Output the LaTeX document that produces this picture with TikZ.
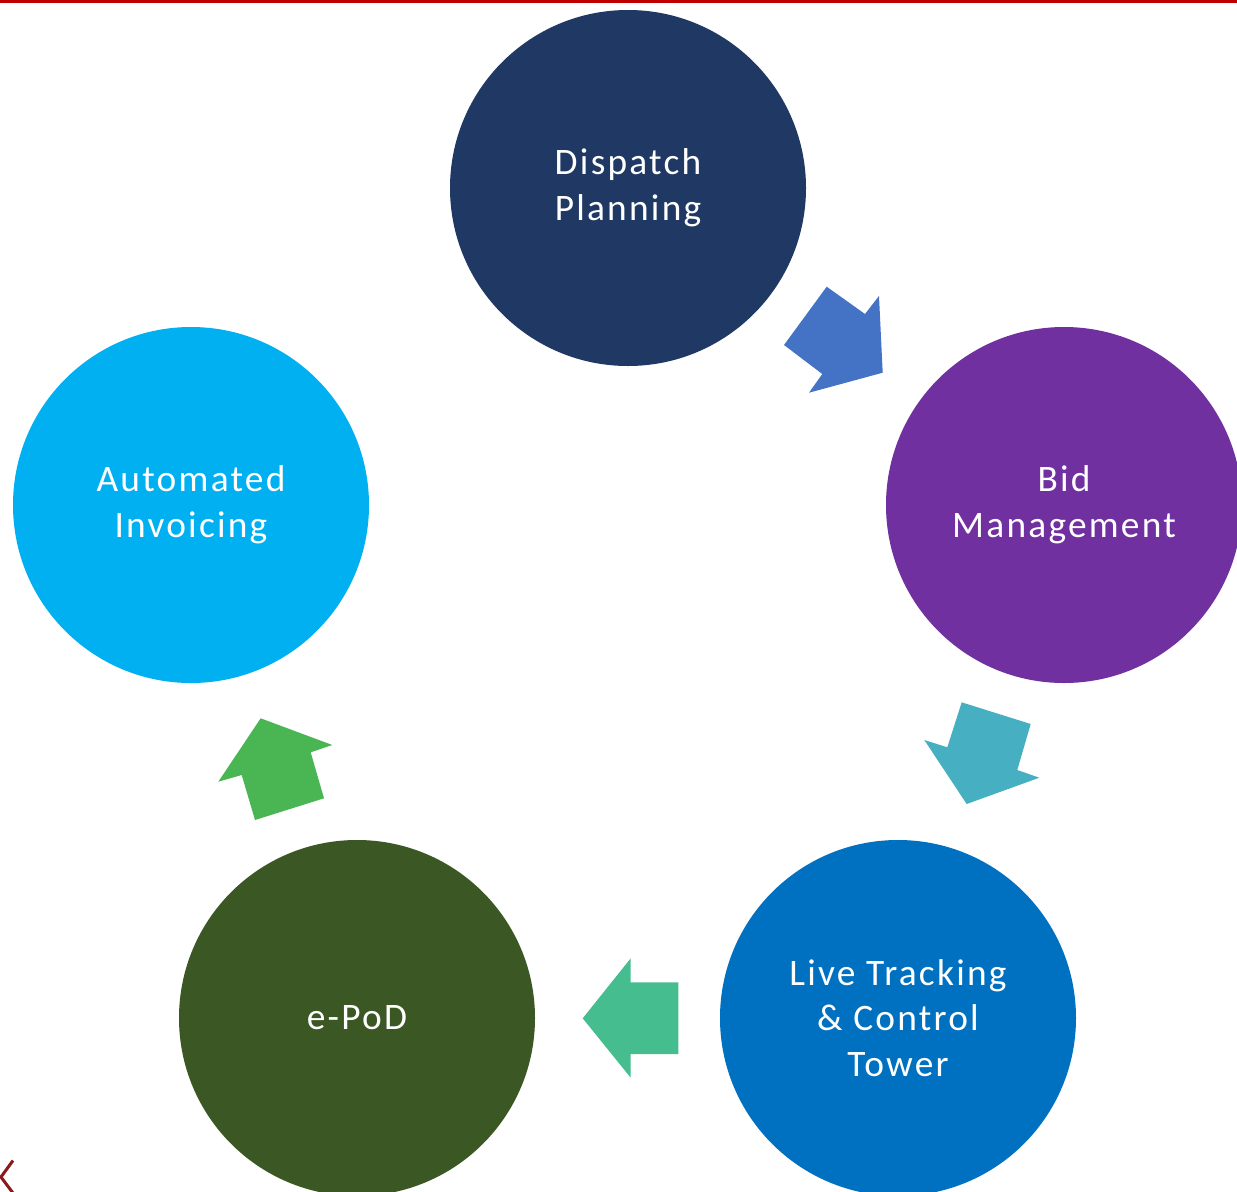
\documentclass[tikz,border=0pt]{standalone}
\usepackage{fontspec}
\setmainfont{Carlito}
\newfontfamily\stagefont[LetterSpace=6]{Carlito}
\definecolor{cDispatch}{HTML}{203864}
\definecolor{cBid}{HTML}{7030A0}
\definecolor{cLive}{HTML}{0070C0}
\definecolor{cPod}{HTML}{3B5724}
\definecolor{cInv}{HTML}{00B0F0}
\definecolor{aOne}{HTML}{4472C4}
\definecolor{aTwo}{HTML}{47AFC2}
\definecolor{aThree}{HTML}{46BD8E}
\definecolor{aFour}{HTML}{4AB553}
\definecolor{topred}{HTML}{C00000}
\definecolor{darkred}{HTML}{8B1A1A}
\begin{document}
\begin{tikzpicture}[x=1bp,y=-1bp,
  stage/.style={circle, minimum size=356bp, inner sep=0pt, text=white, align=center,
    font=\stagefont\fontsize{37.5}{46}\selectfont}]
\useasboundingbox (0,0) rectangle (1237,1192);
\clip (0,0) rectangle (1237,1192);
\fill[white] (0,0) rectangle (1237,1192);
\fill[topred] (0,0) rectangle (1237,2.5);
% stages
\node[stage, fill=cDispatch] (dp) at (628,188) {Dispatch\\Planning};
\node[stage, fill=cBid] (bm) at (1064,505) {Bid\\Management};
\node[stage, fill=cLive] (lt) at (898,1018) {Live Tracking\\\& Control\\Tower};
\node[stage, fill=cPod] (ep) at (357,1018) {e-PoD};
\node[stage, fill=cInv] (ai) at (191,505) {Automated\\Invoicing};
% block arrows
\fill[aOne] (826.7,286.7) -- (865,314) -- (879,296) -- (882.7,372.7) -- (809,392.7) -- (822.3,374) -- (784,345) -- cycle;
\fill[aTwo] (961.7,702.3) -- (1030.7,724) -- (1017.3,770) -- (1039.3,777.7) -- (966.7,804) -- (924.3,740) -- (947.3,747.3) -- cycle;
\fill[aThree] (630.7,958.3) -- (630.7,982.3) -- (678.3,982.3) -- (678.3,1054) -- (630.7,1054) -- (630.7,1077.7) -- (582.7,1018.3) -- cycle;
\fill[aFour] (260.7,718.3) -- (332.3,745) -- (310.7,752.3) -- (324,798.3) -- (255,820) -- (241.7,775) -- (218.3,781.7) -- cycle;
% fragment of a letter at bottom-left
\draw[darkred, line width=3bp] (13,1160.5) -- (1,1177) -- (13,1193);
\end{tikzpicture}
\end{document}
